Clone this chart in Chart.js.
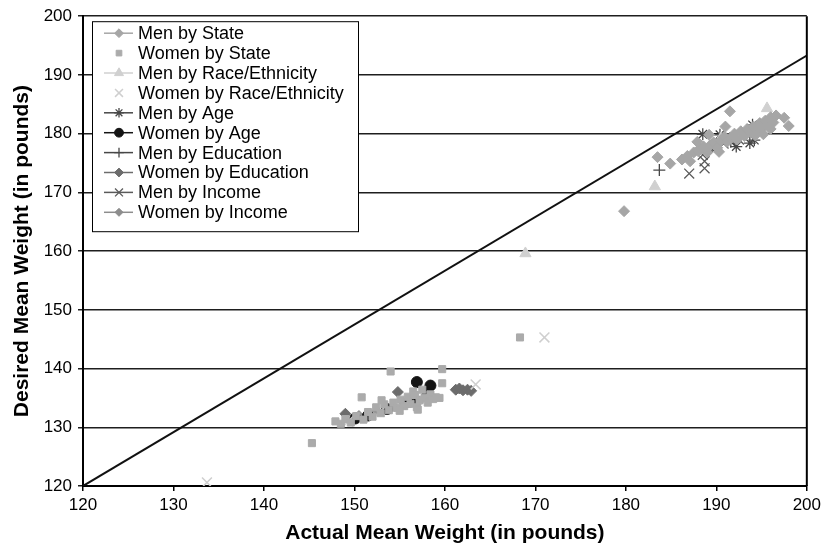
<!DOCTYPE html>
<html>
<head>
<meta charset="utf-8">
<script src="https://cdn.jsdelivr.net/npm/chart.js@4"></script>
<style>
  html, body { margin: 0; padding: 0; background: #fff; }
  #wrap { width: 825px; height: 547px; }
</style>
</head>
<body>
<div id="wrap"><canvas id="chart"></canvas></div>
<script>
// values: [actual, desired] weights in pounds
const menByState = [
  [179.8, 166.8], [183.5, 176.0], [184.9, 174.9], [186.2, 175.6], [187.1, 175.3],
  [188.2, 177.5], [191.5, 183.8], [196.6, 183.1], [197.5, 182.7], [198.0, 181.3],
  [186.8, 176.2], [187.5, 176.8], [188.0, 177.0], [188.6, 177.8], [189.0, 176.8],
  [189.3, 178.0], [189.7, 178.5], [190.1, 177.6], [190.5, 178.8], [190.9, 179.5],
  [191.2, 178.6], [191.6, 179.2], [192.0, 180.0], [192.3, 179.0], [192.7, 180.4],
  [193.1, 179.6], [193.4, 180.8], [193.8, 180.2], [194.1, 181.2], [194.5, 180.6],
  [194.8, 181.8], [195.1, 181.0], [195.4, 182.2], [195.7, 181.5], [196.0, 182.8],
  [196.3, 181.9], [196.0, 180.8], [195.2, 179.9], [194.3, 179.7], [191.0, 181.2],
  [190.3, 176.9], [189.2, 179.8], [187.9, 178.6]
];
const womenByState = [
  [147.9, 131.0], [148.5, 130.6], [149.0, 131.4], [149.6, 130.8], [150.2, 131.9],
  [150.8, 135.1], [151.0, 131.3], [151.5, 132.6], [152.0, 131.8], [152.4, 133.4],
  [152.9, 132.4], [153.3, 133.9], [153.8, 132.9], [154.0, 139.5], [154.3, 134.2],
  [154.7, 133.3], [155.1, 134.7], [155.5, 133.6], [155.9, 135.2], [156.2, 134.0],
  [156.5, 136.1], [156.7, 135.5], [156.9, 133.4], [157.2, 134.6], [157.5, 136.4],
  [157.8, 135.0], [158.1, 134.2], [158.4, 135.6], [158.7, 134.8], [159.0, 135.1],
  [159.4, 135.0], [159.7, 137.5], [159.7, 139.9], [145.3, 127.3], [168.3, 145.3],
  [153.0, 134.6], [155.0, 132.8], [157.0, 133.0]
];
const menByRace = [[168.9, 159.6], [183.2, 171.0], [195.6, 184.3], [190.5, 179.2]];
const womenByRace = [[133.7, 120.6], [149.3, 131.0], [152.8, 132.6], [157.8, 134.6], [163.4, 137.3], [171.0, 145.3]];
const menByAge = [[188.5, 179.9], [190.4, 179.8], [191.6, 178.6], [192.2, 177.8], [193.7, 178.4], [194.2, 178.9], [194.0, 181.5]];
const womenByAge = [[150.1, 131.5], [151.5, 132.0], [153.6, 133.1], [156.2, 134.4], [156.9, 137.7], [158.4, 137.1], [158.1, 135.9]];
const menByEducation = [[183.7, 173.8], [189.5, 178.0], [191.5, 179.2], [193.2, 180.0], [194.8, 181.0]];
const womenByEducation = [[149.0, 132.3], [154.8, 136.0], [155.6, 134.0], [161.2, 136.4], [161.6, 136.6], [162.0, 136.3], [162.5, 136.4], [162.9, 136.2]];
const menByIncome = [[187.0, 173.2], [188.7, 174.1], [188.7, 175.3], [188.5, 176.4], [189.7, 177.2], [190.8, 178.3], [192.5, 179.0]];
const womenByIncome = [[150.5, 132.0], [152.5, 132.8], [154.2, 133.5], [156.0, 134.2], [157.5, 134.9]];
const referenceLine = [[120, 120], [200, 193.3]];
const axisTicks = [120, 130, 140, 150, 160, 170, 180, 190, 200];

const FONT = "'Liberation Sans', Arial, sans-serif";
const toXY = arr => arr.map(p => ({ x: p[0], y: p[1] }));

function series (label, data, style, radius, color, width, legendLine) {
  return {
    label,
    data: toXY(data),
    pointStyle: style,
    pointRadius: radius,
    pointHoverRadius: radius,
    backgroundColor: color,
    borderColor: color,
    pointBorderWidth: width,
    legendLine
  }
}

const datasets = [
  series('Men by State', menByState, 'rectRot', 5.5, '#a6a6a6', 1, true),
  series('Women by State', womenByState, 'rect', 5, '#ababab', 1, false),
  series('Men by Race/Ethnicity', menByRace, 'triangle', 6.5, '#d0d0d0', 1, true),
  series('Women by Race/Ethnicity', womenByRace, 'crossRot', 7, '#cfcfcf', 1.5, false),
  series('Men by Age', menByAge, 'star', 6, '#474747', 1.3, true),
  series('Women by Age', womenByAge, 'circle', 5.5, '#141414', 1, true),
  series('Men by Education', menByEducation, 'cross', 6, '#474747', 1.3, true),
  series('Women by Education', womenByEducation, 'rectRot', 5.5, '#6c6c6c', 1, true),
  series('Men by Income', menByIncome, 'crossRot', 7, '#5a5a5a', 1.3, true),
  series('Women by Income', womenByIncome, 'rectRot', 5, '#8d8d8d', 1, true)
]

datasets.push({
  type: 'line',
  label: 'reference',
  data: toXY(referenceLine),
  borderColor: '#111',
  borderWidth: 2,
  pointRadius: 0,
  fill: false,
  order: 20
})

// legend boxed inside the plot, like the original
const boxLegend = {
  id: 'boxLegend',
  afterDatasetsDraw (chart) {
    const { ctx, chartArea } = chart
    const left = chartArea.left + 9
    const top = chartArea.top + 5
    ctx.save()
    ctx.fillStyle = '#fff'
    ctx.fillRect(left, top, 266, 210)
    ctx.strokeStyle = '#000'
    ctx.lineWidth = 1
    ctx.strokeRect(left + 0.5, top + 0.5, 266, 210)
    ctx.font = '18px ' + FONT
    ctx.textBaseline = 'middle'
    datasets.slice(0, 10).forEach((ds, i) => {
      const y = top + 12 + i * 19.9
      const cx = left + 27
      if (ds.legendLine) {
        ctx.strokeStyle = ds.borderColor
        ctx.lineWidth = 1.5
        ctx.beginPath()
        ctx.moveTo(left + 12, y)
        ctx.lineTo(left + 41, y)
        ctx.stroke()
      }
      ctx.fillStyle = ds.backgroundColor
      ctx.strokeStyle = ds.borderColor
      ctx.lineWidth = ds.pointBorderWidth
      Chart.helpers.drawPoint(ctx, {
        pointStyle: ds.pointStyle,
        radius: ds.pointRadius * 0.8,
        rotation: 0,
        borderWidth: ds.pointBorderWidth
      }, cx, y)
      ctx.fillStyle = '#000'
      ctx.fillText(ds.label, left + 46, y + 1)
    })
    ctx.restore()
  },
  afterDraw (chart) {
    const { ctx, chartArea } = chart
    ctx.save()
    ctx.strokeStyle = '#000'
    ctx.lineWidth = 2
    ctx.beginPath()
    ctx.moveTo(chartArea.right, chartArea.top)
    ctx.lineTo(chartArea.right, chartArea.bottom)
    ctx.stroke()
    ctx.restore()
  }
}

const chart = new Chart(document.getElementById('chart'), {
  type: 'scatter',
  data: { datasets },
  plugins: [boxLegend],
  options: {
    responsive: true,
    maintainAspectRatio: false,
    animation: false,
    layout: { padding: { left: 0, right: 14, top: 14, bottom: 0 } },
    plugins: {
      legend: { display: false },
      tooltip: { enabled: false }
    },
    scales: {
      x: {
        type: 'linear',
        min: axisTicks[0],
        max: axisTicks[axisTicks.length - 1],
        afterBuildTicks: s => { s.ticks = axisTicks.map(v => ({ value: v })) },
        afterFit: s => { s.height = 61 },
        grid: { drawOnChartArea: false, color: '#000', tickLength: 5, lineWidth: 1.5 },
        border: { color: '#000', width: 2 },
        ticks: { color: '#000', font: { family: FONT, size: 17 }, padding: 4, maxRotation: 0 },
        title: {
          display: true,
          text: 'Actual Mean Weight (in pounds)',
          color: '#000',
          font: { family: FONT, size: 21, weight: 'bold' },
          padding: { top: 1, bottom: 1 }
        }
      },
      y: {
        type: 'linear',
        min: axisTicks[0],
        max: axisTicks[axisTicks.length - 1],
        afterBuildTicks: s => { s.ticks = axisTicks.map(v => ({ value: v })) },
        afterFit: s => { s.width = 83 },
        grid: { color: '#1e1e1e', lineWidth: 1.5, tickLength: 5 },
        border: { color: '#000', width: 2 },
        ticks: { color: '#000', font: { family: FONT, size: 17 }, padding: 6 },
        title: {
          display: true,
          text: 'Desired Mean Weight (in pounds)',
          color: '#000',
          font: { family: FONT, size: 21, weight: 'bold' },
          padding: { top: 10, bottom: 0 }
        }
      }
    }
  }
})
</script>
</body>
</html>
